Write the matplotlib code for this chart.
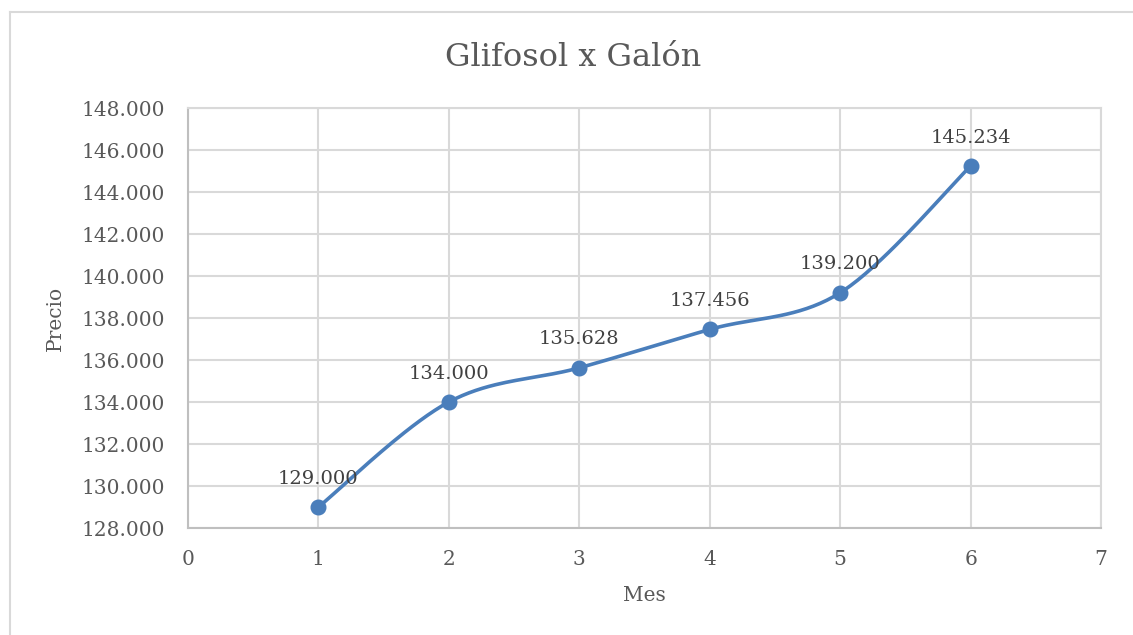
import numpy as np
import matplotlib
matplotlib.use("Agg")
import matplotlib.pyplot as plt
from matplotlib.ticker import FuncFormatter, MultipleLocator
from matplotlib.lines import Line2D

# datos
mes = [1, 2, 3, 4, 5, 6]
precio = [129000, 134000, 135628, 137456, 139200, 145234]

titulo = "Glifosol x Galón"
xlabel = "Mes"
ylabel = "Precio"

azul = "#4a7ebb"
gris_texto = "#595959"

plt.rcParams["font.family"] = ["DejaVu Serif"]


def miles(v, pos=None):
    return "{:,.0f}".format(v).replace(",", ".")


def suavizar(xs, ys, n=40):
    # curva tipo Excel (bezier con puntos de control catmull-rom)
    xs = np.asarray(xs, float)
    ys = np.asarray(ys, float)
    px = np.concatenate([[xs[0]], xs, [xs[-1]]])
    py = np.concatenate([[ys[0]], ys, [ys[-1]]])
    out_x, out_y = [], []
    t = np.linspace(0, 1, n)
    for i in range(1, len(px) - 2):
        p0x, p1x, p2x, p3x = px[i - 1], px[i], px[i + 1], px[i + 2]
        p0y, p1y, p2y, p3y = py[i - 1], py[i], py[i + 1], py[i + 2]
        c1x = p1x + (p2x - p0x) / 6
        c1y = p1y + (p2y - p0y) / 6
        c2x = p2x - (p3x - p1x) / 6
        c2y = p2y - (p3y - p1y) / 6
        bx = (1 - t) ** 3 * p1x + 3 * (1 - t) ** 2 * t * c1x + 3 * (1 - t) * t ** 2 * c2x + t ** 3 * p2x
        by = (1 - t) ** 3 * p1y + 3 * (1 - t) ** 2 * t * c1y + 3 * (1 - t) * t ** 2 * c2y + t ** 3 * p2y
        out_x.extend(bx)
        out_y.extend(by)
    return out_x, out_y


fig = plt.figure(figsize=(11.33, 6.35), dpi=100)
ax = fig.add_axes([188 / 1133, 1 - 528 / 635, 913 / 1133, 420 / 635])

# marco del grafico (solo se ve arriba y a la izquierda)
borde_x = 9.5 / 1133
borde_y = 1 - 11.5 / 635
fig.add_artist(Line2D([borde_x, 1.0], [borde_y, borde_y], transform=fig.transFigure,
                      color="#d9d9d9", linewidth=1.5))
fig.add_artist(Line2D([borde_x, borde_x], [0, borde_y], transform=fig.transFigure,
                      color="#d9d9d9", linewidth=1.5))

sx, sy = suavizar(mes, precio)
ax.plot(sx, sy, color=azul, linewidth=2.6, solid_capstyle="round", zorder=3)
ax.plot(mes, precio, "o", color=azul, markersize=10.5, zorder=4)

for x, y in zip(mes, precio):
    ax.annotate(miles(y), (x, y), xytext=(0, 14), textcoords="offset points",
                ha="center", va="bottom", fontsize=14, color="#404040", zorder=5)

ax.set_xlim(0, 7)
ax.set_ylim(128000, 148000)
ax.xaxis.set_major_locator(MultipleLocator(1))
ax.yaxis.set_major_locator(MultipleLocator(2000))
ax.yaxis.set_major_formatter(FuncFormatter(miles))

ax.grid(True, color="#d9d9d9", linewidth=1.5)
ax.set_axisbelow(True)
for s in ["top", "right"]:
    ax.spines[s].set_color("#d9d9d9")
    ax.spines[s].set_linewidth(1.5)
for s in ["left", "bottom"]:
    ax.spines[s].set_color("#bfbfbf")
    ax.spines[s].set_linewidth(1.5)

ax.tick_params(length=0, labelsize=14.5, labelcolor=gris_texto)
ax.tick_params(axis="y", pad=16.5)
ax.tick_params(axis="x", pad=16)

fig.text(573 / 1133, 1 - 57 / 635, titulo, fontsize=23, color=gris_texto,
         ha="center", va="center")
ax.set_xlabel(xlabel, fontsize=14.5, color=gris_texto, labelpad=12)
ax.set_ylabel(ylabel, fontsize=14.5, color=gris_texto, labelpad=12)

fig.savefig("out.png", dpi=100)
